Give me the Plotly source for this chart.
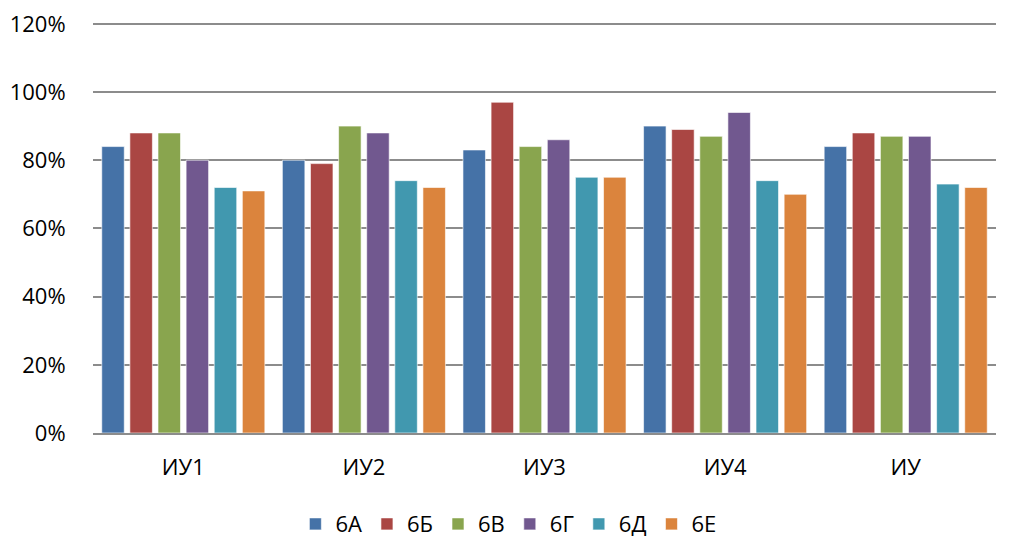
import plotly.graph_objects as go

categories = ["ИУ1", "ИУ2", "ИУ3", "ИУ4", "ИУ"]
series_names = ["6А", "6Б", "6В", "6Г", "6Д", "6Е"]
v_6A = [0.84, 0.80, 0.83, 0.90, 0.84]
v_6B = [0.88, 0.79, 0.97, 0.89, 0.88]
v_6V = [0.88, 0.90, 0.84, 0.87, 0.87]
v_6G = [0.80, 0.88, 0.86, 0.94, 0.87]
v_6D = [0.72, 0.74, 0.75, 0.74, 0.73]
v_6E = [0.71, 0.72, 0.75, 0.70, 0.72]
series_values = [v_6A, v_6B, v_6V, v_6G, v_6D, v_6E]
colors = ["#4572A7", "#AA4643", "#89A54E", "#71588F", "#4198AF", "#DB843D"]
y_ticks = [0, 0.2, 0.4, 0.6, 0.8, 1.0, 1.2]
y_tick_labels = ["0%", "20%", "40%", "60%", "80%", "100%", "120%"]

fig = go.Figure()
for name, vals, col in zip(series_names, series_values, colors):
    fig.add_trace(go.Bar(
        x=categories, y=vals, name=name,
        marker=dict(color=col, line=dict(color="rgba(255,255,255,0.6)", width=1)),
    ))

font = "Open Sans, Liberation Sans, sans-serif"
fig.update_layout(
    width=995, height=542,
    margin=dict(l=85, r=7, t=9, b=117, autoexpand=False),
    paper_bgcolor="white", plot_bgcolor="white",
    barmode="group", bargap=0.066, bargroupgap=0.2,
    font=dict(family=font, size=22, color="black"),
    showlegend=True,
    legend=dict(orientation="h", x=0.46, xanchor="center", y=-0.219, yanchor="middle",
                font=dict(size=22), itemwidth=30, tracegroupgap=0),
    xaxis=dict(showgrid=False, showline=True, linecolor="#8c8c8c", linewidth=1.5,
               automargin=False,
               ticks="outside", ticklen=14, tickcolor="rgba(0,0,0,0)",
               tickfont=dict(size=22)),
    yaxis=dict(range=[0, 1.22], tickvals=y_ticks, ticktext=y_tick_labels,
               showgrid=True, gridcolor="#8c8c8c", gridwidth=1.5,
               zeroline=False, showline=False, ticklabeloverflow="allow",
               automargin=False,
               ticks="outside", ticklen=22, tickcolor="rgba(0,0,0,0)",
               tickfont=dict(size=22)),
)
fig.write_html("out.html")
